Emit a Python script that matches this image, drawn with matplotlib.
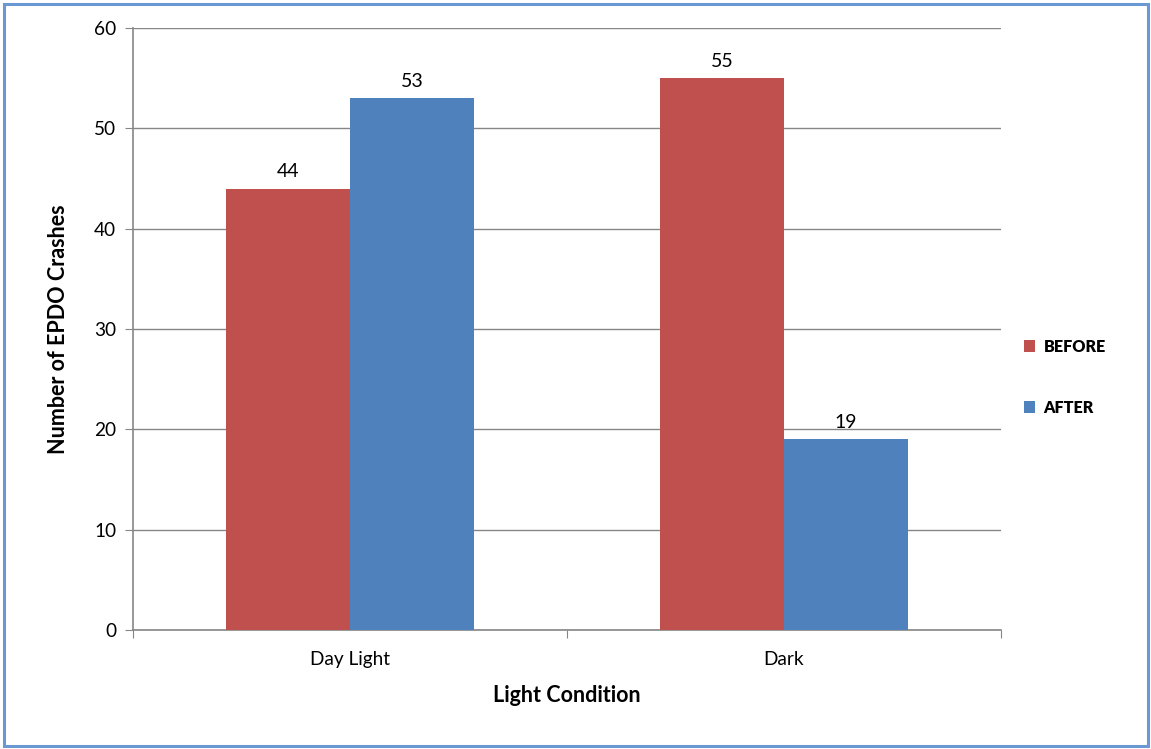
import numpy as np
import matplotlib.pyplot as plt
from matplotlib.patches import Rectangle

plt.rcParams['font.family'] = ['Lato', 'DejaVu Sans']

categories = ['Day Light', 'Dark']
before = [44, 55]
after = [53, 19]

RED = '#C0504D'
BLUE = '#4F81BD'
GRID = '#868686'

fig = plt.figure(figsize=(11.51, 7.49), dpi=100)
ax = fig.add_axes([133 / 1151, 1 - 630 / 749, 868 / 1151, 602 / 749])

x = np.arange(len(categories))
w = 0.285
b1 = ax.bar(x - w / 2, before, w, color=RED, label='BEFORE', zorder=3)
b2 = ax.bar(x + w / 2, after, w, color=BLUE, label='AFTER', zorder=3)

for bars in (b1, b2):
    for rect in bars:
        h = rect.get_height()
        ax.annotate(f'{h:g}', (rect.get_x() + rect.get_width() / 2, h),
                    xytext=(0, 6), textcoords='offset points',
                    ha='center', va='bottom', fontsize=14)

ax.set_xlim(-0.5, len(categories) - 0.5)
ax.set_ylim(0, 60)
ax.set_yticks(range(0, 61, 10))
ax.grid(axis='y', color=GRID, linewidth=1, zorder=0)

# category labels sit between the boundary ticks
ax.set_xticks(np.arange(-0.5, len(categories)), minor=False)
ax.set_xticklabels([])
ax.set_xticks(x, minor=True)
ax.set_xticklabels(categories, minor=True)
ax.tick_params(axis='x', which='minor', length=0, pad=15, labelsize=13.7)
ax.tick_params(axis='x', which='major', length=6, color=GRID, direction='out')
ax.tick_params(axis='y', length=6, color=GRID, labelsize=13.7, pad=6)

for side in ('top', 'right'):
    ax.spines[side].set_visible(False)
for side in ('left', 'bottom'):
    ax.spines[side].set_color(GRID)
    ax.spines[side].set_linewidth(1.2)

ax.set_ylabel('Number of EPDO Crashes', fontsize=15.5, fontweight='bold', labelpad=18)
ax.set_xlabel('Light Condition', fontsize=15.5, fontweight='bold', labelpad=12)

ax.legend(loc='center left', bbox_to_anchor=(1.01, 0.42), frameon=False,
          handlelength=0.7, handleheight=0.7, handletextpad=0.5,
          labelspacing=2.8, prop={'weight': 'heavy', 'size': 11.6})

# blue frame around the whole chart area
fig.patches.append(Rectangle((4 / 1151, 3 / 749), 1144 / 1151, 742 / 749,
                             transform=fig.transFigure, fill=False,
                             edgecolor='#6A98D2', linewidth=2.2))

fig.savefig('out.png', dpi=100)
